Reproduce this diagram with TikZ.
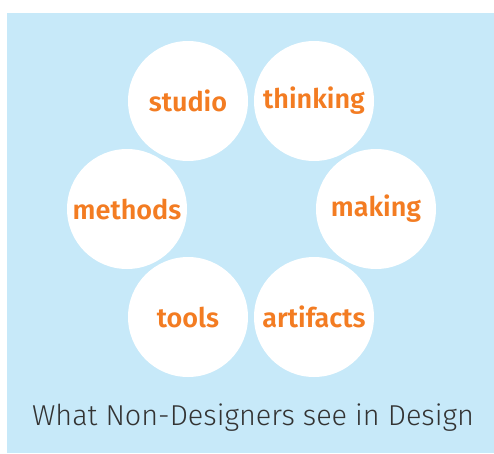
\documentclass[tikz,border=0pt]{standalone}
\usepackage{fontspec}
\setmainfont{Fira Sans}
\newfontfamily\labelfont{Fira Sans}[UprightFont=* SemiBold]
\newfontfamily\titlefont{Fira Sans}[UprightFont=* Light]
\definecolor{bgblue}{HTML}{C7E9F9}
\definecolor{lblorange}{HTML}{F37C22}
\definecolor{titlegrey}{HTML}{333333}
\begin{document}
\begin{tikzpicture}[x=1pt,y=-1pt,
  bubble/.style={circle,fill=white,minimum size=120pt,inner sep=0pt,
    font=\labelfont\fontsize{27}{30}\selectfont,text=lblorange},
  caption/.style={font=\titlefont\fontsize{28.8}{34}\selectfont,text=titlegrey}]
\useasboundingbox (0,0) rectangle (494,453);
\fill[bgblue] (7,13) rectangle (494,453);
\node[bubble] (studio) at (188,101) {studio};
\node[bubble] (thinking) at (314,101) {thinking};
\node[bubble] (making) at (376,209) {making};
\node[bubble] (artifacts) at (314,317) {artifacts};
\node[bubble] (tools) at (188,317) {tools};
\node[bubble] (methods) at (127,209) {methods};
\node[caption,anchor=base] (title) at (253,425) {What Non-Designers see in Design};
\end{tikzpicture}
\end{document}
